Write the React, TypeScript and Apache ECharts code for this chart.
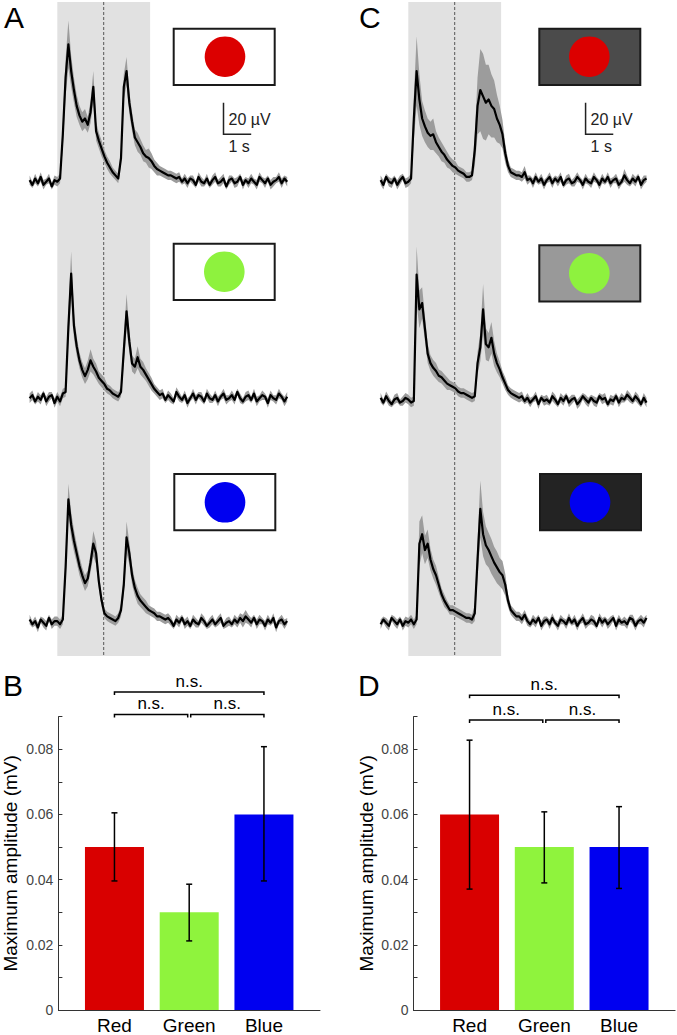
import React, { useEffect, useRef } from "react";
import * as echarts from "echarts";

const FONT = "'Liberation Sans', Arial, Helvetica, sans-serif";

// ---------- time base of the recordings (s) ----------
const T_START = -1.0;
const DT = 0.1;
const STIM_ON = 0;
const STIM_OFF = 3.35;
const STIM_MID = 1.675;
const T_END_A = 8.3;
const T_END_C = 8.6;

// ---------- traces (µV) : mean and SEM, panel A (white background) ----------
const A_RED_MEAN = [1,-2,2,-1,3,-2,0,2,-3,1, 0,2,30,66,87,70,58,48,42,38, 40,36,44,60,32,26,21,16,12,9, 6,4,2,15,60,70,50,38,28,25, 22,18,16,15,13,10,8,7,6,5, 4,4,3,2,
  3,0,2,-1,2,1,-2,3,0,-1, 2,-2,1,3,-1,0,2,-3,1,2, -1,0,3,-2,1,-1,2,0,-2,3, 1,-1,2,-2,0,1,3,-1,2,0];
const A_RED_SEM = [3,2,3,2,3,3,2,3,2,3, 3,3,8,12,15,10,8,7,6,6, 6,5,7,10,6,5,5,4,4,4, 3,3,3,5,8,9,7,6,5,6, 5,5,4,6,5,4,4,3,3,3, 3,3,3,3,
  3,2,3,3,2,3,2,3,3,2, 3,2,3,3,2,3,3,2,3,2, 3,3,2,3,2,3,3,2,3,3, 2,3,2,3,3,2,3,3,2,3];

const A_GREEN_MEAN = [0,2,-2,1,-1,3,-2,1,2,-3, 1,-2,3,4,45,79,46,33,24,18, 14,18,24,20,17,13,11,9,6,5, 3,2,1,4,30,55,36,22,20,26, 20,18,15,12,9,6,4,2,
  3,-1,2,0,-2,4,1,-1,2,-3, 0,3,-1,2,1,-2,3,0,-1,2, -2,1,3,-1,0,2,-1,4,0,-2, 1,2,-1,3,-2,0,2,1,-3,2, 0,-1,3,1,-2,1];
const A_GREEN_SEM = [3,3,2,3,3,2,3,3,2,3, 3,3,3,3,10,14,8,6,5,5, 5,6,7,5,5,4,4,4,3,3, 3,3,3,3,8,11,7,5,5,7, 5,5,4,4,4,3,3,3,
  3,2,3,3,2,3,3,2,3,3, 2,3,3,2,3,2,3,3,2,3, 3,2,3,3,2,3,3,2,3,2, 3,3,2,3,3,2,3,2,3,3, 2,3,3,2,3,3];

const A_BLUE_MEAN = [2,-1,1,-3,2,0,-2,3,-1,1, 1,-1,2,35,78,62,52,44,36,30, 25,28,38,50,44,26,14,6,4,3, 2,1,3,8,24,54,44,30,22,17, 14,12,10,8,7,6,4,4,3,2,3,
  1,-2,2,0,3,-1,1,-2,2,0, -1,3,1,-2,0,2,-1,1,3,-2, 0,1,-1,2,0,3,1,4,2,0, 3,-1,2,1,-2,2,0,3,-3,1, 2,-1,1];
const A_BLUE_SEM = [3,2,3,3,2,3,3,2,3,3, 3,3,3,8,10,8,7,6,6,5, 5,5,6,8,7,5,4,3,3,3, 3,3,3,4,6,10,7,6,5,5, 4,4,4,3,3,3,3,3,3,3,3,
  3,2,3,3,2,3,3,2,3,3, 2,3,3,2,3,3,2,3,3,2, 3,3,2,3,3,3,4,4,3,3, 2,3,3,2,3,3,2,3,3,2, 3,3,2];

// ---------- traces (µV), panel C (grey backgrounds) ----------
const C_RED_MEAN = [1,-2,3,0,-1,2,-2,1,3,-1, 0,2,40,70,52,40,35,31,29,30, 25,22,19,17,14,12,10,9,7,6, 5,3,3,4,20,48,58,54,50,52, 48,46,40,36,30,18,10,6,5,4,4,3,
  6,1,2,-1,3,0,2,-2,1,3, -1,2,0,3,-2,1,2,-1,0,3, 1,-2,2,0,-1,3,1,-2,2,0, 3,-1,1,2,-2,0,4,1,-1,2, 0,3,-2,1,2];
const C_RED_SEM = [3,3,2,3,3,2,3,3,2,3, 3,3,14,22,16,11,10,9,9,10, 7,6,6,5,5,4,4,4,3,3, 3,3,3,3,10,18,26,27,24,22, 20,18,15,12,9,6,4,3,3,3,3,3,
  4,3,2,3,3,2,3,3,2,3, 3,2,3,3,2,3,3,2,3,3, 2,3,3,2,3,3,2,3,3,2, 3,3,2,3,3,2,4,3,2,3, 3,2,3,3,2];

const C_GREEN_MEAN = [2,-1,3,0,-2,1,2,-1,0,2, 1,-1,0,80,58,62,46,30,24,21, 19,16,15,13,11,10,9,8,6,5, 5,4,3,2,3,24,34,58,36,34, 40,30,24,20,15,11,7,5,4,3,2,
  3,0,2,-1,1,3,-2,2,0,1, -1,3,1,-2,2,0,3,-1,1,2, -2,0,3,1,-1,2,0,-1,3,1, 2,-2,1,0,3,-1,2,1,4,2, 0,3,1,-2,2,-1];
const C_GREEN_SEM = [3,2,3,3,2,3,3,2,3,3, 3,3,3,18,12,10,8,6,5,5, 5,4,4,4,4,3,3,3,3,3, 3,3,3,3,3,7,9,16,10,9, 10,8,6,5,4,4,3,3,3,3,3,
  3,2,3,3,2,3,3,2,3,3, 2,3,3,2,3,3,2,3,3,2, 3,3,2,3,3,2,3,3,2,3, 3,2,3,3,2,3,3,2,3,3, 2,3,3,2,3,3];

const C_BLUE_MEAN = [-1,2,0,-2,3,1,-1,2,-2,1, 0,2,-1,2,50,56,46,50,40,34, 30,24,18,14,11,8,8,7,6,5, 4,3,3,2,6,40,72,56,49,46, 42,38,35,32,30,24,14,8,6,4,4,2,
  5,1,-1,2,0,3,-2,1,2,-1, 3,0,-2,2,1,-1,3,0,2,-2, 1,3,-1,0,2,1,-2,3,0,2, -1,1,3,-2,2,0,1,-1,3,2, -2,1,2,0,3];
const C_BLUE_SEM = [3,2,3,3,2,3,3,2,3,3, 3,3,3,3,14,12,9,9,7,6, 6,5,4,4,3,3,3,3,3,3, 3,3,3,3,5,12,18,14,12,11, 11,10,10,9,9,7,4,3,3,3,3,3,
  3,3,2,3,3,2,3,3,2,3, 3,2,3,3,2,3,3,2,3,3, 2,3,3,2,3,3,2,3,3,2, 3,3,2,3,3,2,3,3,2,3, 3,2,3,3,2];

// ---------- scale bars ----------
const SCALE_V = 20; // µV
const SCALE_T = 1; // s
const SCALE_V_LABEL = "20 µV";
const SCALE_T_LABEL = "1 s";

// ---------- bar charts (mV) ----------
const CATEGORIES = ["Red", "Green", "Blue"];
const B_MEANS = [0.05, 0.03, 0.06];
const B_LOW = [0.0396, 0.0212, 0.0396];
const B_HIGH = [0.0605, 0.0386, 0.0808];
const D_MEANS = [0.06, 0.05, 0.05];
const D_LOW = [0.0371, 0.039, 0.0373];
const D_HIGH = [0.0828, 0.0608, 0.0624];
const Y_MIN = 0;
const Y_MAX = 0.09;
const Y_STEP = 0.01;
const SIG_PAIRS = [[1, 3], [1, 2], [2, 3]];
const SIG_LABEL = "n.s.";
const Y_TITLE = "Maximum amplitude (mV)";

// ---------- colours ----------
const STIM_COLORS = ["#dc0000", "#8ef23e", "#0000f0"];
const BAR_COLORS = ["#d90000", "#8ff33d", "#0000f0"];
const A_BACKGROUNDS = ["#ffffff", "#ffffff", "#ffffff"];
const C_BACKGROUNDS = ["#4b4b4b", "#999999", "#232323"];

// ---------- layout (px) ----------
const PX_PER_S = 27.7;
const PX_PER_UV = 1.58;
const A_LEFT = 29.6;
const C_LEFT = 380.6;
const A_BASELINES = [181.7, 398.3, 622.7];
const C_BASELINES = [181.7, 401, 622.7];
const TRACE_Y_MIN = -20;
const TRACE_Y_MAX = 110;

function sampleTime(i: number) {
  return Math.round((T_START + i * DT) * 100) / 100;
}

function buildOption() {
  const grids: any[] = [];
  const xAxes: any[] = [];
  const yAxes: any[] = [];
  const series: any[] = [];

  const addGrid = (grid: any, x: any, y: any) => {
    const idx = grids.length;
    grids.push({ outerBoundsMode: "none", containLabel: false, ...grid });
    xAxes.push({ gridIndex: idx, ...x });
    yAxes.push({ gridIndex: idx, ...y });
    return idx;
  };

  const hiddenX = (tEnd: number) => ({ type: "value", min: T_START, max: tEnd, show: false });

  const panels = [
    { left: A_LEFT, tEnd: T_END_A, baselines: A_BASELINES, traces: [[A_RED_MEAN, A_RED_SEM], [A_GREEN_MEAN, A_GREEN_SEM], [A_BLUE_MEAN, A_BLUE_SEM]], scaleAt: [6.0, 30] },
    { left: C_LEFT, tEnd: T_END_C, baselines: C_BASELINES, traces: [[C_RED_MEAN, C_RED_SEM], [C_GREEN_MEAN, C_GREEN_SEM], [C_BLUE_MEAN, C_BLUE_SEM]], scaleAt: [6.4, 30] },
  ];

  panels.forEach((p) => {
    const width = (p.tEnd - T_START) * PX_PER_S;
    // stimulus shading + dashed midline
    const g = addGrid({ left: p.left, top: 2, width, height: 654 }, hiddenX(p.tEnd), { type: "value", min: 0, max: 1, show: false });
    series.push({
      type: "custom",
      xAxisIndex: g,
      yAxisIndex: g,
      z: 0,
      silent: true,
      data: [[STIM_ON, STIM_OFF, STIM_MID]],
      renderItem: (params: any, api: any) => {
        const a = api.coord([api.value(0), 1]);
        const b = api.coord([api.value(1), 0]);
        const m = api.coord([api.value(2), 0]);
        return {
          type: "group",
          children: [
            { type: "rect", shape: { x: a[0], y: a[1], width: b[0] - a[0], height: b[1] - a[1] }, style: { fill: "#e1e1e1" } },
            { type: "line", shape: { x1: m[0], y1: a[1], x2: m[0], y2: b[1] }, style: { stroke: "#555", lineWidth: 1, lineDash: [3, 2] } },
          ],
        };
      },
    });

    p.traces.forEach(([mean, sem], ti) => {
      const top = p.baselines[ti] - TRACE_Y_MAX * PX_PER_UV;
      const height = (TRACE_Y_MAX - TRACE_Y_MIN) * PX_PER_UV;
      const gi = addGrid({ left: p.left, top, width, height }, hiddenX(p.tEnd), { type: "value", min: TRACE_Y_MIN, max: TRACE_Y_MAX, show: false });
      // SEM band as one polygon
      series.push({
        type: "custom", xAxisIndex: gi, yAxisIndex: gi, z: 1, silent: true, clip: false,
        encode: { x: 0, y: [1, 2] },
        data: mean.map((m, i) => [sampleTime(i), m - sem[i], m + sem[i]]),
        renderItem: (params: any, api: any) => {
          if (params.dataIndexInside !== 0) return null;
          const n = params.dataInsideLength;
          const upper: number[][] = [];
          const lower: number[][] = [];
          for (let i = 0; i < n; i++) {
            const t = api.value(0, i);
            upper.push(api.coord([t, api.value(2, i)]));
            lower.push(api.coord([t, api.value(1, i)]));
          }
          return { type: "polygon", shape: { points: upper.concat(lower.reverse()) }, style: { fill: "#9c9c9c" } };
        },
      });
      series.push({
        type: "line", xAxisIndex: gi, yAxisIndex: gi, symbol: "none", silent: true, z: 2,
        lineStyle: { color: "#000", width: 2.2, join: "round" },
        data: mean.map((m, i) => [sampleTime(i), m]),
      });
      if (ti === 0) {
        series.push({
          type: "custom", xAxisIndex: gi, yAxisIndex: gi, z: 3, silent: true, clip: false,
          data: [p.scaleAt],
          renderItem: (params: any, api: any) => {
            const t = api.value(0), v = api.value(1);
            const o = api.coord([t, v]);
            const up = api.coord([t, v + SCALE_V]);
            const rt = api.coord([t + SCALE_T, v]);
            return {
              type: "group",
              children: [
                { type: "polyline", shape: { points: [up, o, rt] }, style: { stroke: "#222", lineWidth: 1.5, fill: "none" } },
                { type: "text", style: { text: SCALE_V_LABEL, x: o[0] + 5, y: (o[1] + up[1]) / 2 + 1, align: "left", verticalAlign: "middle", fontSize: 16, fontFamily: FONT, fill: "#222" } },
                { type: "text", style: { text: SCALE_T_LABEL, x: o[0] + 5, y: o[1] + 12, align: "left", verticalAlign: "middle", fontSize: 16, fontFamily: FONT, fill: "#222" } },
              ],
            };
          },
        });
      }
    });
  });

  // bar charts
  const barPanels = [
    { left: 58.4, means: B_MEANS, low: B_LOW, high: B_HIGH, levels: [0.0976, 0.0907, 0.0907] },
    { left: 413.5, means: D_MEANS, low: D_LOW, high: D_HIGH, levels: [0.0966, 0.089, 0.089] },
  ];
  barPanels.forEach((bp) => {
    const g = addGrid(
      { left: bp.left, top: 716.7, width: 261.6, height: 293.3 },
      {
        type: "value", min: 0.25, max: 3.75,
        axisLine: { show: true, lineStyle: { color: "#333", width: 1 } },
        axisTick: { show: false },
        splitLine: { show: false },
        axisLabel: {
          customValues: [1, 2, 3],
          formatter: (v: number) => (Number.isInteger(v) && v >= 1 && v <= 3 ? CATEGORIES[v - 1] : ""),
          fontSize: 19, fontFamily: FONT, color: "#000", margin: 6,
          hideOverlap: false,
        },
      },
      {
        type: "value", min: Y_MIN, max: Y_MAX, interval: Y_STEP,
        axisLine: { show: true, lineStyle: { color: "#333", width: 1 } },
        axisTick: { show: true, inside: true, length: 4, lineStyle: { color: "#333" } },
        splitLine: { show: false },
        axisLabel: {
          formatter: (v: number) => {
            const k = Math.round(v * 100);
            if (k % 2 !== 0) return "";
            return k === 0 ? "0" : (k / 100).toFixed(2);
          },
          fontSize: 14, fontFamily: FONT, color: "#444", margin: 5,
        },
        name: Y_TITLE,
        nameLocation: "middle",
        nameRotate: 90,
        nameGap: 38,
        nameTextStyle: { fontSize: 19, fontFamily: FONT, color: "#000" },
      }
    );
    series.push({
      type: "bar", xAxisIndex: g, yAxisIndex: g, barWidth: 59, silent: true, z: 1,
      data: bp.means.map((m, i) => ({ value: [i + 1, m], itemStyle: { color: BAR_COLORS[i] } })),
    });
    series.push({
      type: "custom", xAxisIndex: g, yAxisIndex: g, z: 3, silent: true, clip: false,
      encode: { x: 0, y: [1, 2] },
      data: bp.means.map((m, i) => [i + 1, bp.low[i], bp.high[i]]),
      renderItem: (params: any, api: any) => {
        const x = api.value(0);
        const lo = api.coord([x, api.value(1)]);
        const hi = api.coord([x, api.value(2)]);
        const cap = 3;
        const st = { stroke: "#000", lineWidth: 1.5 };
        return {
          type: "group",
          children: [
            { type: "line", shape: { x1: lo[0], y1: lo[1], x2: hi[0], y2: hi[1] }, style: st },
            { type: "line", shape: { x1: hi[0] - cap, y1: hi[1], x2: hi[0] + cap, y2: hi[1] }, style: st },
            { type: "line", shape: { x1: lo[0] - cap, y1: lo[1], x2: lo[0] + cap, y2: lo[1] }, style: st },
          ],
        };
      },
    });
    series.push({
      type: "custom", xAxisIndex: g, yAxisIndex: g, z: 3, silent: true, clip: false,
      encode: { x: [0, 1], y: 2 },
      data: SIG_PAIRS.map((pr, i) => [pr[0], pr[1], bp.levels[i]]),
      renderItem: (params: any, api: any) => {
        const x1 = api.value(0), x2 = api.value(1), lv = api.value(2);
        const a = api.coord([x1, lv]);
        const b = api.coord([x2, lv]);
        const l = a[0] + (x1 === 2 ? 1.5 : 0);
        const r = b[0] - (x2 === 2 ? 1.5 : 0);
        const y = a[1];
        return {
          type: "group",
          children: [
            { type: "polyline", shape: { points: [[l, y + 3], [l, y], [r, y], [r, y + 3]] }, style: { stroke: "#000", lineWidth: 1.5, fill: "none" } },
            { type: "text", style: { text: SIG_LABEL, x: (l + r) / 2, y: y - 10.5, align: "center", verticalAlign: "middle", fontSize: 17, fontFamily: FONT, fill: "#000" } },
          ],
        };
      },
    });
  });

  // insets and panel letters
  const insetsA = [
    { x: 173.7, y: 28.7, cx: 225, cy: 56.7 },
    { x: 173.7, y: 243.7, cx: 224.3, cy: 271.7 },
    { x: 174.3, y: 474, cx: 225, cy: 502.3 },
  ];
  const insetsC = [
    { x: 539.3, y: 28.7, cx: 589.3, cy: 56.7 },
    { x: 539.3, y: 245.3, cx: 589.3, cy: 273.3 },
    { x: 540, y: 474, cx: 590, cy: 502.3 },
  ];
  const graphic: any[] = [];
  const addInsets = (list: any[], bgs: string[]) => {
    list.forEach((ins, i) => {
      graphic.push({ type: "rect", shape: { x: ins.x, y: ins.y, width: 101, height: 56.3 }, style: { fill: bgs[i], stroke: "#1a1a1a", lineWidth: 2 }, z: 10 });
      graphic.push({ type: "circle", shape: { cx: ins.cx, cy: ins.cy, r: 20.3 }, style: { fill: STIM_COLORS[i] }, z: 11 });
    });
  };
  addInsets(insetsA, A_BACKGROUNDS);
  addInsets(insetsC, C_BACKGROUNDS);
  const letters = [
    { t: "A", x: 4, y: 17.5 },
    { t: "C", x: 359, y: 17.5 },
    { t: "B", x: 3, y: 685.8 },
    { t: "D", x: 358, y: 685.8 },
  ];
  letters.forEach((l) => {
    graphic.push({ type: "text", x: l.x, y: l.y, z: 12, style: { text: l.t, fontSize: 30, fontFamily: FONT, fill: "#000", verticalAlign: "middle", align: "left" } });
  });

  return {
    animation: false,
    backgroundColor: "#ffffff",
    grid: grids,
    xAxis: xAxes,
    yAxis: yAxes,
    series,
    graphic,
  };
}

export default function App() {
  const ref = useRef<HTMLDivElement>(null);
  useEffect(() => {
    if (!ref.current) return;
    const chart = echarts.init(ref.current, null, { renderer: "svg" });
    chart.setOption(buildOption() as any);
    return () => chart.dispose();
  }, []);
  return (
    <div
      ref={ref}
      style={{ position: "absolute", left: 0, top: 0, width: 677, height: 1035, background: "#fff" }}
    />
  );
}
